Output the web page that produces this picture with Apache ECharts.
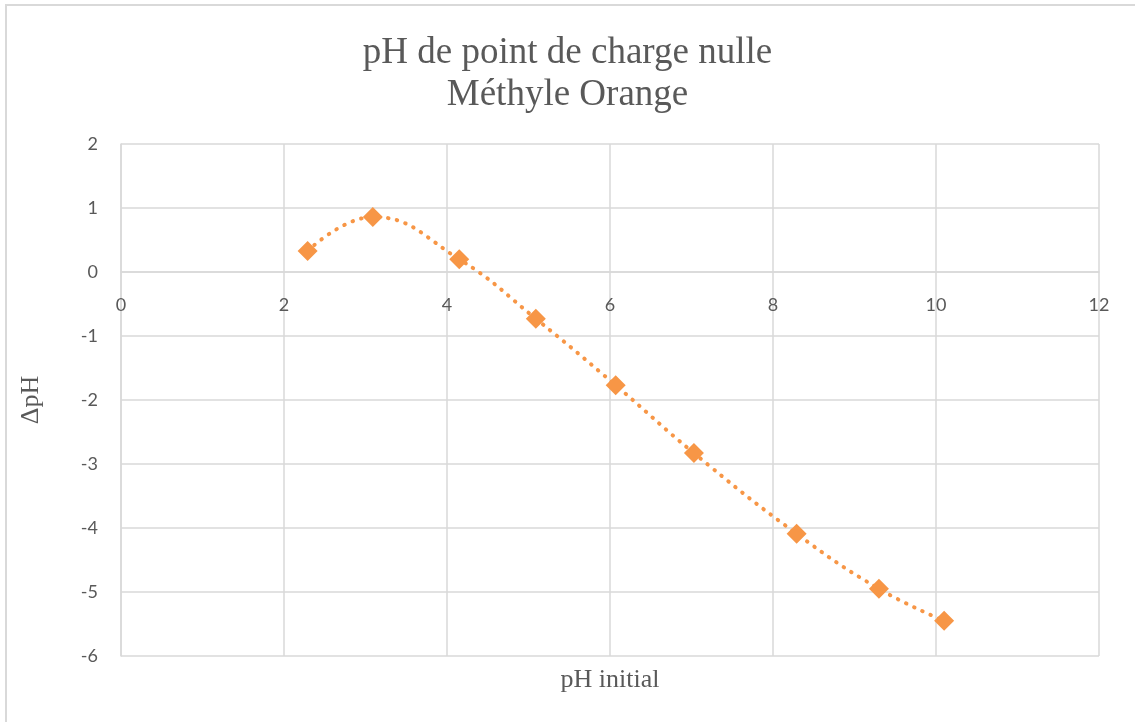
<!DOCTYPE html>
<html>
<head>
<meta charset="utf-8">
<script src="https://cdn.jsdelivr.net/npm/echarts@6/dist/echarts.min.js"></script>
<style>
    html, body { margin: 0; padding: 0; background: #fff; }
    #chart { width: 1135px; height: 722px; }
</style>
</head>
<body>
<div id="chart"></div>
<script>
// valeurs
var phInitial = [2.29, 3.09, 4.15, 5.09, 6.07, 7.03, 8.29, 9.30, 10.10];
var deltaPh = [0.33, 0.86, 0.20, -0.73, -1.77, -2.83, -4.09, -4.95, -5.45];
var titleLines = ['pH de point de charge nulle', 'Méthyle Orange'];

var points = [];
for (var i = 0; i < phInitial.length; i++) {
    points.push([phInitial[i], deltaPh[i]]);
}

var dom = document.getElementById("chart");
var myChart = echarts.init(dom);
var option = null;

var gridColor = '#d9d9d9';
var textColor = '#595959';
var orange = '#f79646';

option = {
    animation: false,
    backgroundColor: '#fff',
    title: {
        text: titleLines.join('\n'),
        left: 'center',
        top: 27,
        padding: [5, 0, 5, 12],
        textStyle: {
            fontFamily: 'Liberation Serif',
            fontSize: 37,
            fontWeight: 'normal',
            color: textColor,
            lineHeight: 42
        }
    },
    graphic: [{
        type: 'rect',
        shape: { x: 6, y: 5, width: 1150, height: 740 },
        style: { fill: 'none', stroke: gridColor, lineWidth: 2 },
        silent: true
    }],
    grid: {
        left: 121,
        right: 36,
        top: 144,
        bottom: 66
    },
    xAxis: {
        type: 'value',
        min: 0,
        max: 12,
        interval: 2,
        position: 'bottom',
        // l'axe des x passe par y = 0
        offset: -384,
        name: 'pH initial',
        nameLocation: 'middle',
        nameGap: 395,
        nameTextStyle: {
            fontFamily: 'Liberation Serif',
            fontSize: 26,
            color: textColor
        },
        axisLine: { onZero: false, lineStyle: { color: gridColor, width: 1.5 } },
        axisTick: { show: false },
        axisLabel: {
            fontFamily: 'Lato',
            fontSize: 18,
            color: textColor,
            margin: 24
        },
        splitLine: { lineStyle: { color: gridColor, width: 1.5 } }
    },
    yAxis: {
        type: 'value',
        min: -6,
        max: 2,
        interval: 1,
        name: 'ΔpH',
        nameLocation: 'middle',
        nameGap: 77,
        nameTextStyle: {
            fontFamily: 'Liberation Serif',
            fontSize: 26,
            color: textColor
        },
        axisLine: { show: true, lineStyle: { color: gridColor, width: 1.5 } },
        axisTick: { show: false },
        axisLabel: {
            fontFamily: 'Lato',
            fontSize: 18,
            color: textColor,
            margin: 23
        },
        splitLine: { lineStyle: { color: gridColor, width: 1.5 } }
    },
    series: [{
        type: 'line',
        data: points,
        smooth: 0.45,
        symbol: 'diamond',
        symbolSize: 20,
        itemStyle: { color: orange },
        lineStyle: {
            color: orange,
            width: 4,
            type: [0.5, 8.5],
            cap: 'round'
        },
        z: 3
    }]
};

if (option && typeof option === "object") {
    myChart.setOption(option, true);
}
</script>
</body>
</html>
